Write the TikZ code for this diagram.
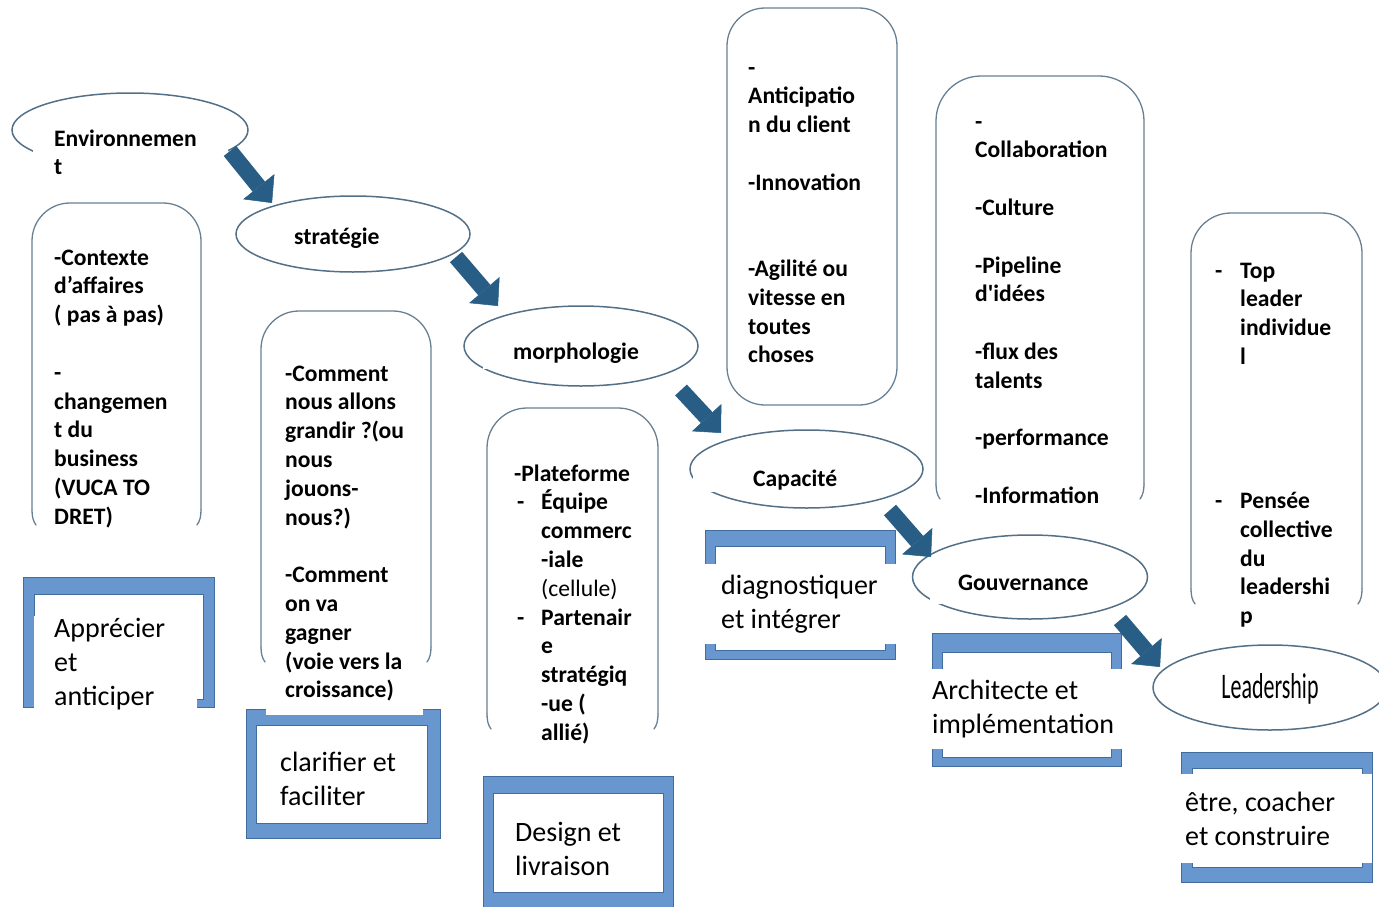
\documentclass[tikz,border=0pt]{standalone}
\usepackage{fontspec}
\setmainfont{Carlito}
\usepackage{graphicx}
\usetikzlibrary{arrows.meta,shapes.geometric}

\definecolor{ovalline}{RGB}{84,112,135}
\definecolor{boxgray}{RGB}{104,128,148}
\definecolor{arrowblue}{RGB}{40,93,133}
\definecolor{barblue}{RGB}{104,150,207}
\definecolor{baredge}{RGB}{66,108,158}

% stacked lines whose baseline is the first line's baseline
\newcommand{\Ln}[1]{\hbox{#1}}
\newcommand{\Lines}[1]{\vtop{#1}}

% tall rounded box, open at the bottom: left x, top y, right x, end y, radius
\newcommand{\roundopen}[5]{%
  \draw[boxedge, rounded corners=#5] (#1,{#4-8}) -- (#1,#2) -- (#3,#2) -- (#3,{#4-8});
  \draw[boxedge] (#1,{#4-8}) .. controls (#1,{#4-2}) and ({#1+1},{#4+3}) .. ({#1+4},{#4+7});
  \draw[boxedge] (#3,{#4-8}) .. controls (#3,{#4-2}) and ({#3-1},{#4+3}) .. ({#3-4},{#4+7});}

\tikzset{
  oval/.style={ellipse, draw=ovalline, line width=1.5pt, fill=white, inner sep=0pt},
  boxedge/.style={draw=boxgray, line width=1.3pt, line cap=round},
  bandframe/.style={fill=barblue, draw=baredge, line width=0.9pt},
  bandinner/.style={fill=white, draw=baredge, line width=0.9pt},
  txt/.style={anchor=base west, inner sep=0pt, text=black},
  bftext/.style={font=\fontsize{23.6}{28.8}\selectfont\bfseries},
  rgtext/.style={font=\fontsize{28}{34}\selectfont},
  bigarrow/.style={draw=arrowblue, line width=16pt,
    -{Triangle[width=40pt,length=21pt,line width=0.5pt,fill=arrowblue]}},
}

\begin{document}
\begin{tikzpicture}[x=1pt,y=-1pt]
\useasboundingbox (0,0) rectangle (1379,907);

% ---- tall rounded boxes with the bullet lists
\roundopen{32}{203}{201}{518}{38}
\roundopen{261}{311}{431}{655}{38}
\roundopen{487}{408}{658}{722}{40}
\draw[boxedge, rounded corners=38] (727,8) rectangle (897,405);
\roundopen{936}{76}{1144}{492}{45}
\roundopen{1191}{213}{1362}{597}{40}

% ---- blue frames
\draw[bandframe] (23,577) rectangle (214,707);
\draw[bandinner] (34,594) rectangle (203,699);
\draw[bandframe] (246,709) rectangle (440,838);
\draw[bandinner] (256,725) rectangle (427,823);
\draw[bandframe] (483,776) rectangle (673,912);
\draw[bandinner] (493,793) rectangle (663,892);
\draw[bandframe] (705,530) rectangle (895,659);
\draw[bandinner] (715,546) rectangle (885,650);
\draw[bandframe] (932,633) rectangle (1121,766);
\draw[bandinner] (942,652) rectangle (1111,757);
\draw[bandframe] (1181,752) rectangle (1372,882);
\draw[bandinner] (1192,768) rectangle (1362,867);

% ---- stage ellipses
\node[oval, minimum width=236pt, minimum height=74pt] (env) at (130,130) {};
\node[oval, minimum width=234pt, minimum height=76pt] (strat) at (353,234) {};
\node[oval, minimum width=234pt, minimum height=80pt] (morph) at (581,346) {};
\node[oval, minimum width=233pt, minimum height=78pt] (capa) at (806.5,469) {};
\node[oval, minimum width=235pt, minimum height=84pt] (gouv) at (1030,577) {};
\node[oval, minimum width=234pt, minimum height=85pt] (lead) at (1270,687.5) {};

% ---- ellipse labels
\node[txt, bftext, fill=white, inner xsep=21pt, inner ysep=10pt] (envtxt) at (33,146)
  {\Lines{\Ln{\makebox[153pt][l]{Environnemen}}\Ln{t}}};
\node[txt, bftext, fill=white, inner xsep=36pt, inner ysep=7pt] (strattxt) at (258,244) {stratégie};
\node[txt, bftext, fill=white, inner xsep=30pt, inner ysep=6pt] (morphtxt) at (483,359) {morphologie};
\node[txt, bftext, fill=white, inner xsep=60pt, inner ysep=2pt] (capatxt) at (693,486) {Capacité};
\node[txt, bftext, fill=white, inner xsep=28pt, inner ysep=14pt] (gouvtxt) at (930,590) {Gouvernance};
\node[anchor=base, inner sep=0pt] (leadtxt) at (1270,698)
  {\scalebox{0.61}[1]{\fontsize{36}{40}\selectfont Leadership}};

% ---- box contents
\node[txt, bftext] (b1) at (54,265) {\Lines{%
  \Ln{-Contexte}\Ln{d’affaires}\Ln{( pas à pas)}\Ln{}\Ln{-}\Ln{changemen}%
  \Ln{t du}\Ln{business}\Ln{(VUCA TO}\Ln{DRET)}}};
\node[txt, bftext, fill=white, inner xsep=19pt, inner ysep=14pt] (b2) at (266,381) {\Lines{%
  \Ln{-Comment}\Ln{nous allons}\Ln{grandir ?(ou}\Ln{nous}\Ln{jouons-}\Ln{nous?)}\Ln{}%
  \Ln{-Comment}\Ln{on va}\Ln{gagner}\Ln{(voie vers la}\Ln{croissance)}}};
\node[txt, bftext] (b3) at (514,481) {\Lines{%
  \Ln{-Plateforme}
  \Ln{\kern3pt\makebox[24pt][l]{-}Équipe}
  \Ln{\kern27pt commerc}
  \Ln{\kern27pt -iale}
  \Ln{\kern27pt\mdseries(cellule)}
  \Ln{\kern3pt\makebox[24pt][l]{-}Partenair}
  \Ln{\kern27pt e}
  \Ln{\kern27pt stratégiq}
  \Ln{\kern27pt -ue (}
  \Ln{\kern27pt allié)}}};
\node[txt, bftext] (b4) at (748,75) {\Lines{%
  \Ln{-}\Ln{Anticipatio}\Ln{n du client}\Ln{}\Ln{-Innovation}\Ln{}\Ln{}%
  \Ln{-Agilité ou}\Ln{vitesse en}\Ln{toutes}\Ln{choses}}};
\node[txt, bftext] (b5) at (975,129) {\Lines{%
  \Ln{-}\Ln{Collaboration}\Ln{}\Ln{-Culture}\Ln{}\Ln{-Pipeline}%
  \Ln{d\textquotesingle idées}\Ln{}\Ln{-flux des}\Ln{talents}\Ln{}%
  \Ln{-performance}\Ln{}\Ln{-Information}}};
\node[txt, bftext] (b6) at (1215,278) {\Lines{%
  \Ln{\makebox[25pt][l]{-}Top}
  \Ln{\kern25pt leader}
  \Ln{\kern25pt individue}
  \Ln{\kern25pt l}
  \Ln{}\Ln{}\Ln{}\Ln{}
  \Ln{\makebox[25pt][l]{-}Pensée}
  \Ln{\kern25pt collective}
  \Ln{\kern25pt du}
  \Ln{\kern25pt leadershi}
  \Ln{\kern25pt p}}};

% ---- frame captions
\node[txt, rgtext, fill=white, inner xsep=20pt, inner ysep=2pt] (f1) at (34,637)
  {\Lines{\Ln{\makebox[123pt][l]{Apprécier}}\Ln{et}\Ln{anticiper}}};
\node[txt, rgtext] (f2) at (280,771) {\Lines{\Ln{clarifier et}\Ln{faciliter}}};
\node[txt, rgtext] (f3) at (515,841) {\Lines{\Ln{Design et}\Ln{livraison}}};
\node[txt, rgtext, fill=white, inner xsep=28pt, inner ysep=11pt] (f4) at (693,594)
  {\Lines{\Ln{\makebox[158pt][l]{diagnostiquer}}\Ln{et intégrer}}};
\node[txt, rgtext, fill=white, inner xsep=37pt, inner ysep=11pt] (f5) at (895,699)
  {\Lines{\Ln{\makebox[181pt][l]{Architecte et}}\Ln{implémentation}}};
\node[txt, rgtext, fill=white, inner xsep=5pt, inner ysep=18pt] (f6) at (1180,811)
  {\Lines{\Ln{\makebox[182pt][l]{être, coacher}}\Ln{et construire}}};

% ---- flow arrows between the stages
\draw[bigarrow] ([shift={(100,21)}]env.center) -- ([shift={(-81,-31)}]strat.center);
\draw[bigarrow] ([shift={(103,23)}]strat.center) -- ([shift={(-83,-40)}]morph.center);
\draw[bigarrow] ([shift={(100,44)}]morph.center) -- ([shift={(-85.5,-36)}]capa.center);
\draw[bigarrow] ([shift={(83.5,41)}]capa.center) -- ([shift={(-99,-20)}]gouv.center);
\draw[bigarrow] ([shift={(90,43)}]gouv.center) -- ([shift={(-110,-20.5)}]lead.center);
\end{tikzpicture}
\end{document}
